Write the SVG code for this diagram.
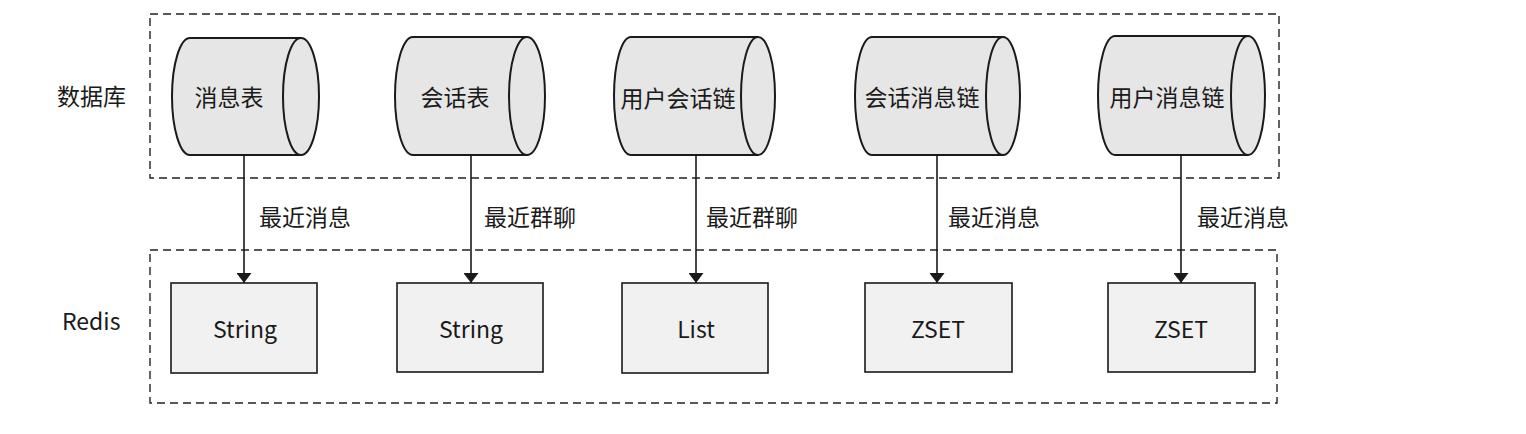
<svg xmlns="http://www.w3.org/2000/svg" width="1526" height="434" viewBox="0 0 1526 434">
<style>
text{font-family:"Noto Sans CJK SC","Noto Sans",sans-serif;font-size:23px;fill:#1a1a1a}
.grp{fill:none;stroke:#222;stroke-width:1.4;stroke-dasharray:8 5}
.cyl{fill:#e6e6e6;stroke:#1a1a1a;stroke-width:2}
.cap{fill:none;stroke:#1a1a1a;stroke-width:2}
.box{fill:#f1f1f1;stroke:#1a1a1a;stroke-width:1.6}
.edge{stroke:#1a1a1a;stroke-width:1.6;fill:none;marker-end:url(#ah)}
.c{text-anchor:middle}
</style>
<defs>
<marker id="ah" viewBox="0 0 10 15" refX="10" refY="7.5" markerWidth="10" markerHeight="15" markerUnits="userSpaceOnUse" orient="auto">
<path d="M0,0 L10,7.5 L0,15 Z" fill="#1a1a1a"/>
</marker>
</defs>
<rect width="1526" height="434" fill="#fff"/>
<g id="group-db">
<rect class="grp" x="150" y="14" width="1129" height="164"/>
<text x="57" y="105">数据库</text>
</g>
<g id="group-redis">
<rect class="grp" x="150" y="250" width="1127" height="153"/>
<text x="62" y="330">Redis</text>
</g>
<g id="db1">
<path class="cyl" d="M190,38 L301,38 A18,58.5 0 0 1 301,155 L190,155 A18,58.5 0 0 1 190,38 Z"/>
<path class="cap" d="M301,38 A18,58.5 0 0 0 301,155"/>
<text class="c" x="229" y="106">消息表</text>
</g>
<g id="db2">
<path class="cyl" d="M413,37 L527,37 A18,59 0 0 1 527,155 L413,155 A18,59 0 0 1 413,37 Z"/>
<path class="cap" d="M527,37 A18,59 0 0 0 527,155"/>
<text class="c" x="455" y="106">会话表</text>
</g>
<g id="db3">
<path class="cyl" d="M631,37 L758,37 A17,59 0 0 1 758,155 L631,155 A17,59 0 0 1 631,37 Z"/>
<path class="cap" d="M758,37 A17,59 0 0 0 758,155"/>
<text class="c" x="678" y="107">用户会话链</text>
</g>
<g id="db4">
<path class="cyl" d="M872,37 L1003,37 A17,59 0 0 1 1003,155 L872,155 A17,59 0 0 1 872,37 Z"/>
<path class="cap" d="M1003,37 A17,59 0 0 0 1003,155"/>
<text class="c" x="922" y="106">会话消息链</text>
</g>
<g id="db5">
<path class="cyl" d="M1115,36 L1248,36 A17,59.5 0 0 1 1248,155 L1115,155 A17,59.5 0 0 1 1115,36 Z"/>
<path class="cap" d="M1248,36 A17,59.5 0 0 0 1248,155"/>
<text class="c" x="1167" y="106">用户消息链</text>
</g>
<g id="r1">
<rect class="box" x="171" y="283" width="146" height="90"/>
<text class="c" x="245" y="338">String</text>
</g>
<g id="r2">
<rect class="box" x="397" y="283" width="146" height="89"/>
<text class="c" x="471" y="338">String</text>
</g>
<g id="r3">
<rect class="box" x="622" y="283" width="146" height="90"/>
<text class="c" x="696" y="338">List</text>
</g>
<g id="r4">
<rect class="box" x="865" y="283" width="147" height="89"/>
<text class="c" x="938" y="338">ZSET</text>
</g>
<g id="r5">
<rect class="box" x="1108" y="283" width="147" height="89"/>
<text class="c" x="1181" y="338">ZSET</text>
</g>
<g id="edges">
<line class="edge" x1="244" y1="155" x2="244" y2="283"/>
<line class="edge" x1="471" y1="155" x2="471" y2="283"/>
<line class="edge" x1="696" y1="155" x2="696" y2="283"/>
<line class="edge" x1="937" y1="155" x2="937" y2="283"/>
<line class="edge" x1="1181" y1="155" x2="1181" y2="283"/>
<text x="259" y="226">最近消息</text>
<text x="484" y="226">最近群聊</text>
<text x="706" y="226">最近群聊</text>
<text x="948" y="226">最近消息</text>
<text x="1197" y="226">最近消息</text>
</g>
</svg>
